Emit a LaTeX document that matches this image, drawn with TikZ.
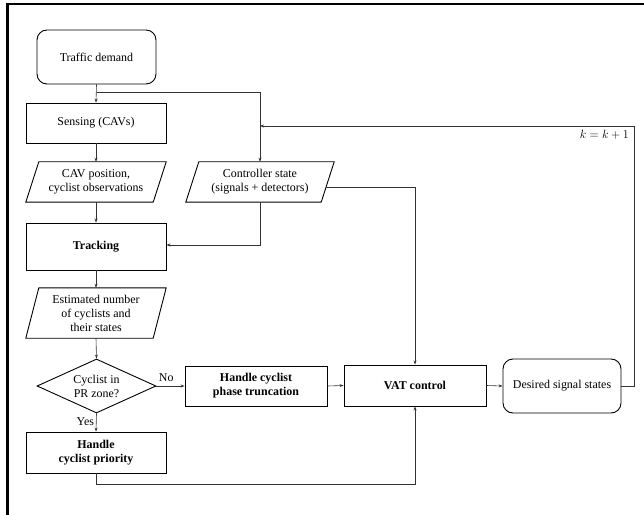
\documentclass[tikz,border=0pt]{standalone}
\usepackage{fontspec}
\setmainfont{Liberation Serif}
\usetikzlibrary{shapes.geometric,arrows.meta,calc}
\begin{document}
\begin{tikzpicture}[x=1bp,y=-1bp,
  every node/.style={font=\fontsize{12}{14}\selectfont, inner sep=0pt, align=center},
  box/.style={draw=black, line width=0.9bp, rectangle, minimum width=140bp, minimum height=40bp},
  rbox/.style={draw=black, line width=0.9bp, rectangle, rounded corners=10bp, minimum width=119bp, minimum height=54bp},
  pbox/.style={rectangle, minimum height=40bp},
  para/.style={draw=black, line width=0.9bp, line join=miter},
  dec/.style={draw=black, line width=0.9bp, diamond, aspect=2.2, minimum width=119bp, minimum height=54bp},
  conn/.style={draw=black!80, line width=0.6bp, -{Stealth[length=4bp,width=3bp]}},
  plain/.style={draw=black!80, line width=0.6bp},
  lbl/.style={font=\fontsize{12}{14}\selectfont}
]
\useasboundingbox (0,0) rectangle (644,515);
\draw[line width=2.5bp] (7.5,515) -- (7.5,4) -- (644,4);

% nodes
\node[rbox] (td) at (96.5,57) {Traffic demand};
\node[box] (sens) at (96,123) {Sensing (CAVs)};
\node[pbox, minimum width=140bp] (cav) at (96,182) {CAV position,\\cyclist observations};
\draw[para] ($(cav.north west)+(13,0)$) -- (cav.north east) -- ($(cav.south east)+(-13,0)$) -- (cav.south west) -- cycle;
\node[pbox, minimum width=148bp] (ctrl) at (260,182) {Controller state\\(signals + detectors)};
\draw[para] ($(ctrl.north west)+(13,0)$) -- (ctrl.north east) -- ($(ctrl.south east)+(-13,0)$) -- (ctrl.south west) -- cycle;
\node[box, minimum height=47bp] (trk) at (96,246.5) {\textbf{Tracking}};
\node[pbox, minimum width=140bp, minimum height=50bp] (est) at (96,313) {Estimated number\\of cyclists and\\their states};
\draw[para] ($(est.north west)+(13,0)$) -- (est.north east) -- ($(est.south east)+(-13,0)$) -- (est.south west) -- cycle;
\node[dec] (dia) at (96.5,386) {Cyclist in\\PR zone?};
\node[box, minimum width=142bp] (trunc) at (256,386) {\textbf{Handle cyclist}\\\textbf{phase truncation}};
\node[box, minimum width=142bp, minimum height=41bp] (vat) at (415,385.5) {\textbf{VAT control}};
\node[rbox, minimum width=118bp] (des) at (562,386) {Desired signal states};
\node[box, minimum height=41bp] (prio) at (96,452.5) {\textbf{Handle}\\\textbf{cyclist priority}};

% helper coordinates
\coordinate (split) at (96.5,92);
\coordinate (ctrlout) at (326,187);
\coordinate (fbtop) at (634,126);
\coordinate (fbin) at (260,126);
\coordinate (prlow) at (96,484);

% connectors
\draw[conn] (td.south) -- (sens.north);
\draw[conn] (split) -| (ctrl.north);
\draw[conn] (sens.south) -- (cav.north);
\draw[conn] (cav.south) -- (trk.north);
\draw[conn] (ctrl.south) |- ($(trk.east)+(0,-1.5)$);
\draw[conn] (ctrlout) -| (vat.north);
\draw[conn] (trk.south) -- (est.north);
\draw[conn] (est.south) -- (dia.north);
\draw[conn] (dia.east) -- node[lbl, above=4bp, pos=0.35] {No} (trunc.west);
\draw[conn] (dia.south) -- node[lbl, left=2bp, pos=0.45] {Yes} (prio.north);
\draw[conn] (trunc.east) -- (vat.west);
\draw[conn] (vat.east) -- (des.west);
\draw[plain] (prio.south) -- (prlow);
\draw[conn] (prlow) -| (vat.south);
\draw[plain] (des.east) -| (fbtop);
\draw[conn] (fbtop) -- (fbin);
\node[lbl, anchor=north east] (kk) at (629,130) {$k = k + 1$};
\end{tikzpicture}
\end{document}
